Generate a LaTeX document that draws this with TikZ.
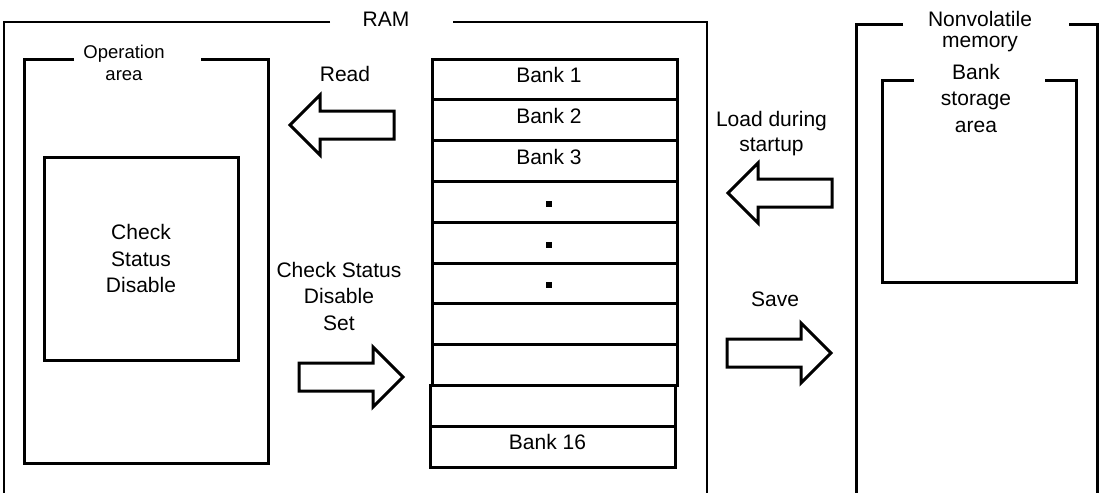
\documentclass[tikz,border=0pt]{standalone}
\usepackage{fontspec}
\setmainfont{Liberation Sans}

\tikzset{
	blockarrow/.pic={
		\draw[thickframe] (0,0) -- (-30,-30) -- (-30,-14) -- (-104,-14) -- (-104,14) -- (-30,14) -- (-30,30) -- cycle;
	}
}

\begin{document}
\begin{tikzpicture}[every node/.style={font=\fontsize{21}{26.5}\selectfont, align=center, inner sep=0pt}, x=1pt, y=-1pt,
	thinframe/.style={line width=1.3pt}, thickframe/.style={line width=3pt},
	bankrow/.style={draw, line width=3pt, minimum width=245pt, minimum height=40.8pt},
	dot/.style={fill, minimum size=6pt}]
	\useasboundingbox[fill=white] (0,0) rectangle (1101,493);
	% RAM
	\node (ramTitle) at (386,19.5) {RAM};
	\draw[thinframe] (330,22) -| (4,493);
	\draw[thinframe] (453,22) -| (707,493);
	% operation area
	\node[font=\fontsize{18.5}{22}\selectfont] (opTitle) at (124,63) {Operation\\area};
	\draw[thickframe] (74,59) -| (24,463) -| (268,59) -- (201,59);
	\node[draw, thickframe, minimum width=194pt, minimum height=203pt] (checkBox) at (141,258.5) {Check\\Status\\Disable};
	% banks
	\foreach \i in {1,...,8} {
		\node[bankrow] (bank\i) at (554.5,{59+40.8*(\i-0.5)}) {};
	}
	\foreach \i in {9,10} {
		\node[bankrow, minimum width=244.5pt] (bank\i) at (553,{59+40.8*(\i-0.5)}) {};
	}
	\foreach \i/\txt in {1/Bank 1, 2/Bank 2, 3/Bank 3, 10/Bank 16} {
		\node (bankText\i) at ([xshift=-5.5pt, yshift=4.5pt]bank\i.center) {\txt};
	}
	\foreach \i in {4,5,6} {
		\node[dot] (dot\i) at ([xshift=-5.5pt, yshift=-2pt]bank\i.center) {};
	}
	% arrows
	\node (readText) at (345,74) {Read};
	\pic[xscale=-1] at (290,125) {blockarrow};
	\node (setText) at (339,296) {Check Status\\Disable\\Set};
	\pic at (403,377) {blockarrow};
	\node[font=\fontsize{21}{25}\selectfont] (loadText) at (771.5,133.7) {Load during\\startup};
	\pic[xscale=-1] at (728,193) {blockarrow};
	\node (saveText) at (775,299) {Save};
	\pic at (831,353) {blockarrow};
	% nonvolatile memory
	\node[font=\fontsize{21}{20.5}\selectfont] (nvTitle) at (980,31.5) {Nonvolatile\\memory};
	\draw[thickframe] (903,24) -| (856,493);
	\draw[thickframe] (1069,24) -| (1097,493);
	\node (storeTitle) at (976,98) {Bank\\storage\\area};
	\draw[thickframe] (914,80) -| (882,282) -| (1076,80) -- (1045,80);
\end{tikzpicture}
\end{document}
